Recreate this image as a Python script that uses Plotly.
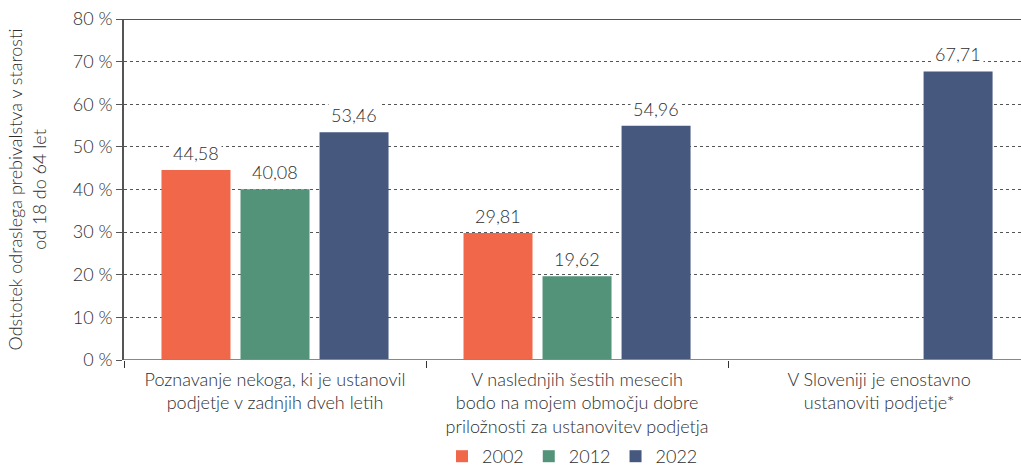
import plotly.graph_objects as go

categories = [
    "Poznavanje nekoga, ki je ustanovil<br>podjetje v zadnjih dveh letih",
    "V naslednjih šestih mesecih<br>bodo na mojem območju dobre<br>priložnosti za ustanovitev podjetja",
    "V Sloveniji je enostavno<br>ustanoviti podjetje*",
]
years = ["2002", "2012", "2022"]
v2002 = [44.58, 29.81, None]
v2012 = [40.08, 19.62, None]
v2022 = [53.46, 54.96, 67.71]
colors = ["#F0674A", "#529379", "#46587E"]
ytickvals = [0, 10, 20, 30, 40, 50, 60, 70, 80]
yticktext = [f"{v} %" for v in ytickvals]

FONT = "Lato"
W = 300
TXT = "#2e2e2e"
SZ = 18

def fmt(v):
    return f"{v:.2f}".replace(".", ",")

fig = go.Figure()
for name, vals, col in zip(years, [v2002, v2012, v2022], colors):
    fig.add_bar(x=categories, y=vals, name=name, marker_color=col, marker_line_width=0)

slot = 79  # px between bars in a group
for j, vals in enumerate([v2002, v2012, v2022]):
    for cat, v in zip(categories, vals):
        if v is None:
            continue
        fig.add_annotation(x=cat, y=v, text=fmt(v), showarrow=False,
                           xshift=(j - 1) * slot, yanchor="bottom", yshift=3,
                           bgcolor="white", borderpad=2,
                           font=dict(family=FONT, size=SZ, color=TXT, weight=W))

fig.update_layout(
    width=1021, height=470,
    margin=dict(l=124, r=0, t=19, b=110, autoexpand=False),
    paper_bgcolor="white", plot_bgcolor="white",
    barmode="group", bargap=0.215, bargroupgap=0.127,
    font=dict(family=FONT, size=SZ, color=TXT, weight=W),
    showlegend=True,
    legend=dict(orientation="h", x=0.5, xanchor="center", y=-0.283, yanchor="middle",
                bgcolor="rgba(0,0,0,0)",
                font=dict(family=FONT, size=SZ, color=TXT, weight=W),
                traceorder="normal"),
)
fig.update_xaxes(
    type="category", range=[-0.5, 2.47], tickson="boundaries",
    ticks="outside", ticklen=7, tickcolor="#333", tickwidth=1,
    showline=False, showgrid=False, zeroline=False, automargin=False,
    ticklabelstandoff=7,
    tickfont=dict(family=FONT, size=SZ, color=TXT, weight=W),
)
fig.update_yaxes(
    range=[0, 80], tickvals=ytickvals, ticktext=yticktext,
    ticks="outside", ticklen=6, tickcolor="#555", tickwidth=1,
    showline=True, linecolor="#555", linewidth=1.5,
    showgrid=True, gridcolor="#555", griddash="dot", gridwidth=1,
    zeroline=False, automargin=False,
    tickfont=dict(family=FONT, size=SZ, color=TXT, weight=W),
    title=dict(text="Odstotek odraslega prebivalstva v starosti<br>od 18 do 64 let",
               font=dict(family=FONT, size=SZ, color=TXT, weight=W), standoff=22),
)
fig.add_shape(type="line", xref="paper", yref="y", x0=0, x1=1, y0=80, y1=80,
              line=dict(color="#555", width=2), layer="above")
fig.add_shape(type="line", xref="paper", yref="y", x0=0, x1=1, y0=0, y1=0,
              line=dict(color="#888", width=2), layer="above")

fig.write_html("out.html", config={"displayModeBar": False},
               post_script="document.body.style.margin='0';document.body.style.overflow='hidden';")
